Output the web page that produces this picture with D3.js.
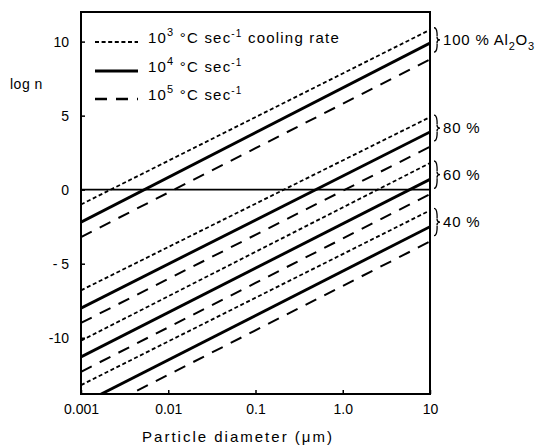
<!DOCTYPE html>
<html>
<head>
<meta charset="utf-8">
<script src="https://cdn.jsdelivr.net/npm/d3@7"></script>
<style>
  body { margin: 0; background: #fff; }
  svg { font-family: "Liberation Sans", Arial, sans-serif; }
</style>
</head>
<body>
<svg id="chart" width="539" height="445"></svg>
<script>
// alumina content groups (labels on the right)
const groups = ["100 %", "80 %", "60 %", "40 %"];
// particle diameter end points (um)
const xEnds = [0.001, 10];
// log n at 0.001 um and 10 um for each cooling rate
const rate1e3 = [[-1.0, 10.8], [-6.8, 4.9], [-10.2, 1.8], [-13.2, -1.4]];
const rate1e4 = [[-2.2, 9.9], [-8.0, 3.9], [-11.3, 0.7], [-14.5, -2.5]];
const rate1e5 = [[-3.2, 8.8], [-9.0, 2.9], [-12.3, -0.3], [-15.5, -3.5]];
// ticks
const xTicks = [0.001, 0.01, 0.1, 1, 10];
const xTickLabels = ["0.001", "0.01", "0.1", "1.0", "10"];
const yTicks = [-10, -5, 0, 5, 10];
const yTickLabels = ["-10", "- 5", "0", "5", "10"];

const svg = d3.select("#chart");
const pLeft = 81, pRight = 430, pTop = 12, pBottom = 394;

const x = d3.scaleLog().domain([0.001, 10]).range([pLeft, pRight]);
const y = d3.scaleLinear().domain([-13.8, 12]).range([pBottom, pTop]);

// clip lines to plot area
svg.append("defs").append("clipPath").attr("id", "clip")
  .append("rect").attr("x", pLeft).attr("y", pTop)
  .attr("width", pRight - pLeft).attr("height", pBottom - pTop);

// series styles
const series = [
  { data: rate1e3, width: 1.8, dash: "4,2.6" },
  { data: rate1e4, width: 2.9, dash: null },
  { data: rate1e5, width: 2, dash: "12,9" }
];

const line = d3.line().x(d => x(d[0])).y(d => y(d[1]));
const plot = svg.append("g").attr("clip-path", "url(#clip)");

series.forEach(s => {
  s.data.forEach(ends => {
    plot.append("path")
      .datum(xEnds.map((xv, i) => [xv, ends[i]]))
      .attr("d", line)
      .attr("fill", "none")
      .attr("stroke", "#000")
      .attr("stroke-width", s.width)
      .attr("stroke-dasharray", s.dash);
  });
});

// zero line
svg.append("line")
  .attr("x1", pLeft).attr("x2", pRight)
  .attr("y1", y(0)).attr("y2", y(0))
  .attr("stroke", "#000").attr("stroke-width", 1.8);

// frame
svg.append("rect")
  .attr("x", pLeft).attr("y", pTop)
  .attr("width", pRight - pLeft).attr("height", pBottom - pTop)
  .attr("fill", "none").attr("stroke", "#000").attr("stroke-width", 2);

// axes
const xAxis = svg.append("g")
  .attr("transform", `translate(0,${pBottom})`)
  .call(d3.axisBottom(x).tickValues(xTicks).tickSize(-4).tickPadding(10)
    .tickFormat((d, i) => xTickLabels[i]));
const yAxis = svg.append("g")
  .attr("transform", `translate(${pLeft},0)`)
  .call(d3.axisLeft(y).tickValues(yTicks).tickSize(-4).tickPadding(12)
    .tickFormat((d, i) => yTickLabels[i]));

[xAxis, yAxis].forEach(a => {
  a.select(".domain").remove();
  a.selectAll(".tick line").attr("stroke", "#000").attr("stroke-width", 1.5);
  a.selectAll(".tick text")
    .attr("fill", "#000")
    .style("font-size", "14px")
    .style("font-family", "'Liberation Sans', Arial, sans-serif");
});

// axis titles
svg.append("text")
  .attr("x", 238).attr("y", 442)
  .attr("text-anchor", "middle")
  .style("font-size", "15px")
  .style("letter-spacing", "2px")
  .text("Particle diameter  (\u03bcm)");

svg.append("text")
  .attr("x", 10).attr("y", 89)
  .style("font-size", "14px")
  .style("letter-spacing", "0.5px")
  .text("log n");

// legend
const legendRates = ["3", "4", "5"];
const legendRows = [42, 71, 99];
series.forEach((s, i) => {
  svg.append("line")
    .attr("x1", 95).attr("x2", 138)
    .attr("y1", legendRows[i]).attr("y2", legendRows[i])
    .attr("stroke", "#000")
    .attr("stroke-width", s.width + 0.3)
    .attr("stroke-dasharray", s.dash);
  const t = svg.append("text")
    .attr("x", 148).attr("y", legendRows[i] + 1)
    .style("font-size", "15px")
    .style("letter-spacing", "1.2px");
  t.append("tspan").text("10");
  t.append("tspan").attr("dy", -7).style("font-size", "11px").text(legendRates[i]);
  t.append("tspan").attr("dy", 7).text(" \u00b0C  sec");
  t.append("tspan").attr("dy", -6).style("font-size", "10px").text("-1");
  t.append("tspan").attr("dy", 6).text(i === 0 ? "  cooling rate" : "");
});

// braces and group labels on the right
groups.forEach((g, i) => {
  const y0 = y(rate1e3[i][1]) - 2;
  const y1 = y(rate1e4[i][1]) + 9;
  const ym = (y0 + y1) / 2;
  const bx = 434;
  svg.append("path")
    .attr("d", `M${bx},${y0} C${bx + 4},${y0} ${bx + 3},${ym - 2} ${bx + 3},${ym - 3}
      C${bx + 3},${ym} ${bx + 6},${ym} ${bx + 6},${ym}
      C${bx + 6},${ym} ${bx + 3},${ym} ${bx + 3},${ym + 3}
      C${bx + 3},${ym + 2} ${bx + 4},${y1} ${bx},${y1}`)
    .attr("fill", "none").attr("stroke", "#000").attr("stroke-width", 1.3);
  const t = svg.append("text")
    .attr("x", 443).attr("y", ym + 5)
    .style("font-size", "15px")
    .style("letter-spacing", "0.8px");
  t.append("tspan").text(g);
  if (i === 0) {
    t.append("tspan").text(" Al");
    t.append("tspan").attr("dy", 5).style("font-size", "11px").text("2");
    t.append("tspan").attr("dy", -5).text("O");
    t.append("tspan").attr("dy", 5).style("font-size", "11px").text("3");
  }
});
</script>
</body>
</html>
